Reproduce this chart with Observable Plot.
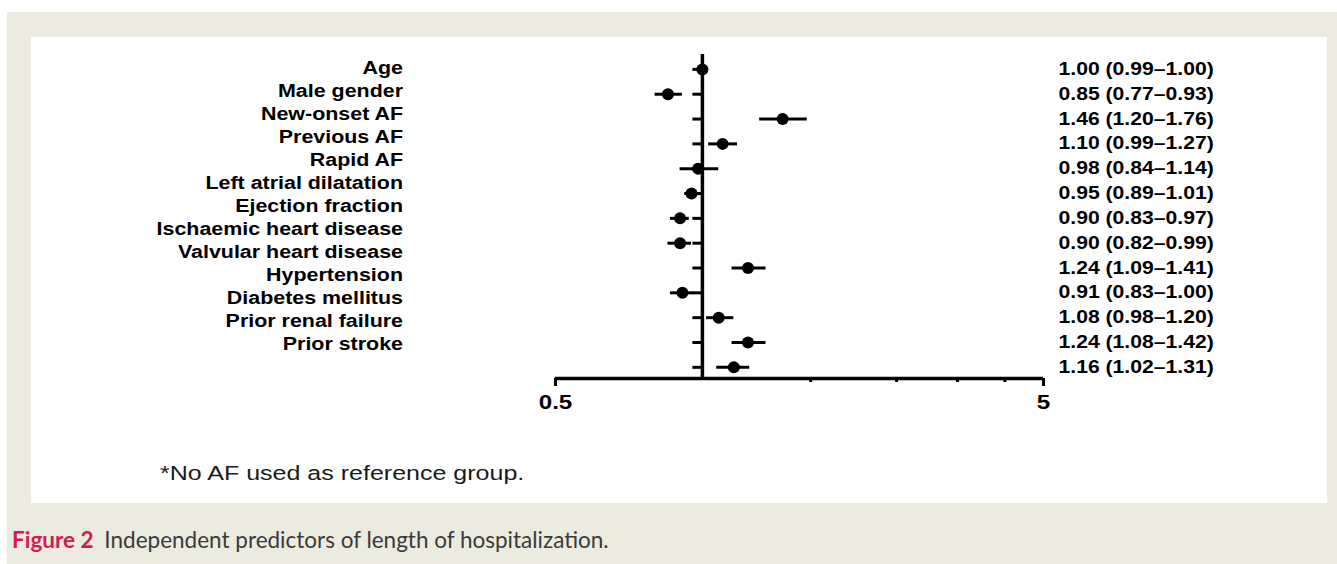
<!DOCTYPE html>
<html>
<head>
<meta charset="utf-8">
<script src="https://cdn.jsdelivr.net/npm/d3@7"></script>
<script src="https://cdn.jsdelivr.net/npm/@observablehq/plot@0.6"></script>
<style>
  html, body { margin: 0; padding: 0; background: #ffffff; }
  body { width: 1337px; height: 564px; overflow: hidden; position: relative; font-family: "Liberation Sans", Arial, sans-serif; }
  #panel { position: absolute; left: 7px; top: 12px; width: 1330px; height: 552px; background: #ecebe0; }
  #box { position: absolute; left: 31px; top: 37px; width: 1296px; height: 466px; background: #ffffff; }
  #chart { position: absolute; left: 0; top: 0; }
  #labels { position: absolute; left: 0; top: 19.5px; width: 372px; color: #000; }
  .lab { height: 23px; line-height: 23px; font-size: 18px; font-weight: bold; text-align: right; white-space: nowrap;
         transform: scaleX(1.19); transform-origin: 100% 50%; }
  #note { position: absolute; left: 129px; top: 424px; font-size: 20.5px; line-height: 24px; color: #1a1a1a; white-space: nowrap;
          transform: scaleX(1.22); transform-origin: 0 50%; }
  #caption { position: absolute; left: 12px; top: 527px; font-family: Lato, "Open Sans", sans-serif; font-size: 22.5px; line-height: 26px; color: #3a3a3a; white-space: nowrap; }
  #caption b { color: #d6194f; font-weight: bold; margin-right: 5px; }
</style>
</head>
<body>
<div id="panel"></div>
<div id="box">
  <div id="labels"></div>
  <div id="chart"></div>
  <div id="note">*No AF used as reference group.</div>
</div>
<div id="caption"><b>Figure 2</b> Independent predictors of length of hospitalization.</div>
<script>
// ---- data ----
const predictors = ["Age", "Male gender", "New-onset AF", "Previous AF", "Rapid AF", "Left atrial dilatation",
  "Ejection fraction", "Ischaemic heart disease", "Valvular heart disease", "Hypertension",
  "Diabetes mellitus", "Prior renal failure", "Prior stroke"];
const oddsRatios = [1.00, 0.85, 1.46, 1.10, 0.98, 0.95, 0.90, 0.90, 1.24, 0.91, 1.08, 1.24, 1.16];
const ciLabels = ["1.00 (0.99\u20131.00)", "0.85 (0.77\u20130.93)", "1.46 (1.20\u20131.76)", "1.10 (0.99\u20131.27)",
  "0.98 (0.84\u20131.14)", "0.95 (0.89\u20131.01)", "0.90 (0.83\u20130.97)", "0.90 (0.82\u20130.99)",
  "1.24 (1.09\u20131.41)", "0.91 (0.83\u20131.00)", "1.08 (0.98\u20131.20)", "1.24 (1.08\u20131.42)",
  "1.16 (1.02\u20131.31)"];
// whisker ends as drawn in the picture
const whiskerLow  = [0.99, 0.80, 1.31, 1.03, 0.90, 0.92, 0.86, 0.85, 1.15, 0.86, 1.02, 1.15, 1.07];
const whiskerHigh = [1.01, 0.91, 1.64, 1.18, 1.08, 0.99, 0.94, 0.95, 1.35, 0.96, 1.16, 1.35, 1.25];
const xMajorTicks = [0.5, 5];
const xMinorTicks = [1.667, 2.5, 3.333, 4.167];
const referenceValue = [1];
const rowDomain = [12.45, -0.6];

const rows = oddsRatios.map((v, i) => ({i, or: v, lo: whiskerLow[i], hi: whiskerHigh[i], txt: ciLabels[i]}));

// left labels (HTML text)
const labDiv = document.getElementById("labels");
predictors.forEach(p => {
  const d = document.createElement("div");
  d.className = "lab";
  d.textContent = p;
  labDiv.appendChild(d);
});

const leftTick = { draw(ctx) { ctx.moveTo(-10, 0); ctx.lineTo(0, 0); } };

const chart = Plot.plot({
  width: 1296,
  height: 466,
  marginLeft: 524,
  marginRight: 284,
  marginTop: 17,
  marginBottom: 125,
  style: { fontFamily: "'Liberation Sans', Arial, sans-serif", background: "transparent", color: "#000", overflow: "visible" },
  x: { type: "log", domain: [xMajorTicks[0], xMajorTicks[1]], label: null, axis: null },
  y: { type: "linear", domain: rowDomain, axis: null, label: null },
  marks: [
    Plot.ruleX(referenceValue, { stroke: "#000", strokeWidth: 3.5 }),
    Plot.ruleY([rowDomain[0]], { x1: xMajorTicks[0], x2: xMajorTicks[1], stroke: "#000", strokeWidth: 3.5 }),
    Plot.axisX(xMajorTicks, { anchor: "bottom", tickSize: 8, tickPadding: 8, strokeWidth: 3, fontSize: 20, fontWeight: "bold",
      fill: "#000", tickFormat: d => String(d), label: null }),
    Plot.axisX(xMinorTicks, { anchor: "bottom", tickSize: 4, strokeWidth: 3, tickFormat: () => "", label: null }),
    Plot.dot(rows, { x: () => referenceValue[0], y: "i", symbol: leftTick, stroke: "#000", fill: "none", strokeWidth: 3 }),
    Plot.ruleY(rows, { y: "i", x1: "lo", x2: "hi", stroke: "#000", strokeWidth: 3 }),
    Plot.dot(rows, { x: "or", y: "i", r: 6, fill: "#000", stroke: "none" }),
    Plot.text(rows, { y: "i", text: "txt", frameAnchor: "right", dx: 15, textAnchor: "start", fontSize: 17.5, fontWeight: "bold", fill: "#000" })
  ]
});
document.getElementById("chart").appendChild(chart);
// the reference's lettering is horizontally widened
chart.querySelectorAll("text").forEach(t => {
  const tr = t.getAttribute("transform") || "";
  t.setAttribute("transform", tr + " scale(1.21,1)");
});
</script>
</body>
</html>
